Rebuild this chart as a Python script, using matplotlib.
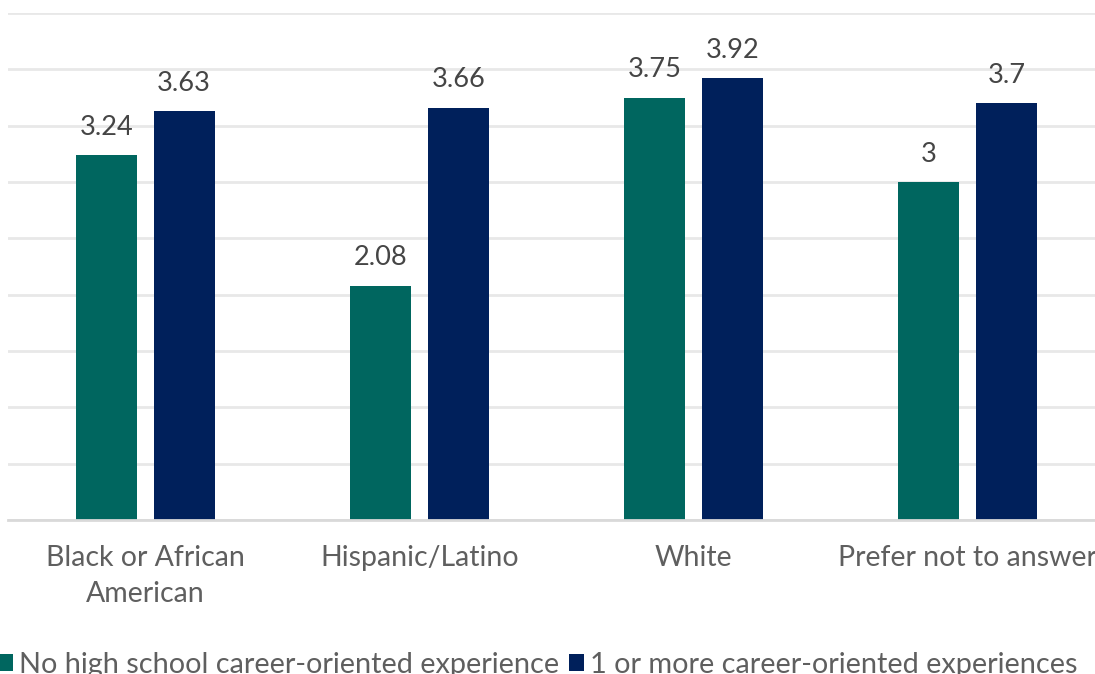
import numpy as np
import matplotlib
matplotlib.use('Agg')
import matplotlib.pyplot as plt

categories = ['Black or African\nAmerican', 'Hispanic/Latino', 'White', 'Prefer not to answer']
no_experience = [3.24, 2.08, 3.75, 3.0]
with_experience = [3.63, 3.66, 3.92, 3.7]
series_names = ['No high school career-oriented experience', '1 or more career-oriented experiences']

teal = '#00665f'
navy = '#00205b'
text_color = '#5f5f5f'

plt.rcParams['font.family'] = ['Lato', 'DejaVu Sans']

fig = plt.figure(figsize=(10.95, 6.74), dpi=100)
fig.set_facecolor('white')
ax = fig.add_axes([8 / 1095, 154 / 674, 1097 / 1095, 507 / 674])

x = np.arange(len(categories))
width = 0.222
offset = 0.142

b1 = ax.bar(x - offset, no_experience, width, color=teal, label=series_names[0], zorder=3)
b2 = ax.bar(x + offset, with_experience, width, color=navy, label=series_names[1], zorder=3)

for bars, vals in ((b1, no_experience), (b2, with_experience)):
    for bar, v in zip(bars, vals):
        ax.annotate(f'{v:g}', (bar.get_x() + bar.get_width() / 2, v),
                    xytext=(0, 11), textcoords='offset points',
                    ha='center', va='bottom', fontsize=19.5, color='#454545')

ax.set_xlim(-0.5, len(categories) - 0.5)
ax.set_ylim(0, 4.5)
ax.set_yticks(np.arange(0, 4.51, 0.5))
ax.set_yticklabels([])
ax.tick_params(axis='y', length=0)
ax.tick_params(axis='x', length=0, pad=18, labelsize=20.5, labelcolor=text_color)
ax.set_xticks(x)
ax.set_xticklabels(categories, linespacing=1.5)
ax.grid(axis='y', color='#e8e8e8', linewidth=2, zorder=0)

for s in ['top', 'right', 'left']:
    ax.spines[s].set_visible(False)
ax.spines['bottom'].set_color('#d9d9d9')
ax.spines['bottom'].set_linewidth(2)
ax.spines['bottom'].set_zorder(4)

fig.legend(loc='center left', bbox_to_anchor=(-0.012, 0.014), ncol=2, frameon=False,
           fontsize=20.8, labelcolor=text_color, handlelength=0.5, handleheight=0.5,
           handletextpad=0.22, columnspacing=0.35, borderaxespad=0)

fig.savefig('out.png', dpi=100, facecolor='white')
